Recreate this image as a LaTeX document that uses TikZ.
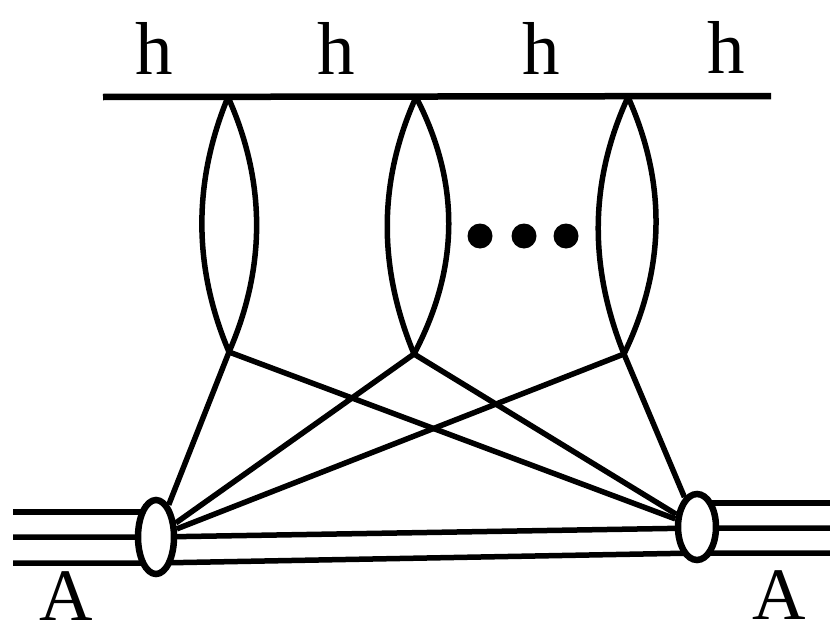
\documentclass[tikz,border=0pt]{standalone}
\usepackage{fontspec}
\setmainfont{Liberation Serif}
\usetikzlibrary{shapes.geometric}
\begin{document}
\begin{tikzpicture}[x=1pt,y=-1pt,
  ln/.style={line width=5.5pt},
  lbl/.style={anchor=base,inner sep=0pt,font=\fontsize{75}{80}\selectfont},
  albl/.style={anchor=base,inner sep=0pt,font=\fontsize{74}{80}\selectfont},
  blob/.style={ellipse,draw,line width=6.5pt,fill=white,inner sep=0pt},
  dotn/.style={circle,fill=black,inner sep=0pt,minimum size=25pt}]
\useasboundingbox (0,0) rectangle (830,637);
% labels
\node[lbl] (h1) at (154,74) {h};
\node[lbl] (h2) at (336,74) {h};
\node[lbl] (h3) at (541,74) {h};
\node[lbl] (h4) at (726,73) {h};
\node[albl] (A1) at (66,620) {A};
\node[albl] (A2) at (779,619) {A};
% top line
\coordinate (tl) at (103,97);
\coordinate (tr) at (771,96);
\draw[line width=6.5pt] (tl) -- (tr);
% loop vertices
\coordinate (t1) at (228,97);  \coordinate (b1) at (229,352);
\coordinate (t2) at (416,97);  \coordinate (b2) at (414,354);
\coordinate (t3) at (628,97);  \coordinate (b3) at (624,354);
% loops
\draw[ln] (t1) .. controls (193,182) and (193,267) .. (b1);
\draw[ln] (t1) .. controls (266,182) and (266,267) .. (b1);
\draw[ln] (t2) .. controls (378,182) and (378,267) .. (b2);
\draw[ln] (t2) .. controls (460,182) and (460,267) .. (b2);
\draw[ln] (t3) .. controls (589,182) and (589,267) .. (b3);
\draw[ln] (t3) .. controls (666,182) and (666,267) .. (b3);
% dots
\node[dotn] (d1) at (480,236) {};
\node[dotn] (d2) at (524,236) {};
\node[dotn] (d3) at (566,236) {};
% horizontal lines
\coordinate (la) at (13,512); \coordinate (lb) at (13,537); \coordinate (lc) at (13,563);
\coordinate (ma) at (156,512); \coordinate (mb) at (156,537); \coordinate (mc) at (156,563);
\coordinate (na) at (697,503); \coordinate (nb) at (697,528); \coordinate (nc) at (697,553);
\coordinate (ra) at (830,503); \coordinate (rb) at (830,528); \coordinate (rc) at (830,553);
\draw[ln] (la) -- (ma);
\draw[ln] (lb) -- (mb) -- (nb) -- (rb);
\draw[ln] (lc) -- (mc) -- (nc) -- (rc);
\draw[ln] (na) -- (ra);
% ellipses
\node[blob,minimum width=36pt,minimum height=74pt] (L) at (156,537) {};
\node[blob,minimum width=38pt,minimum height=66pt] (R) at (697,527) {};
% connectors
\draw[ln] (L) -- (b1);
\draw[ln] (L) -- (b2);
\draw[ln] (L) -- (b3);
\draw[ln] (R) -- (b1);
\draw[ln] (R) -- (b2);
\draw[ln] (R) -- (b3);
\end{tikzpicture}
\end{document}
